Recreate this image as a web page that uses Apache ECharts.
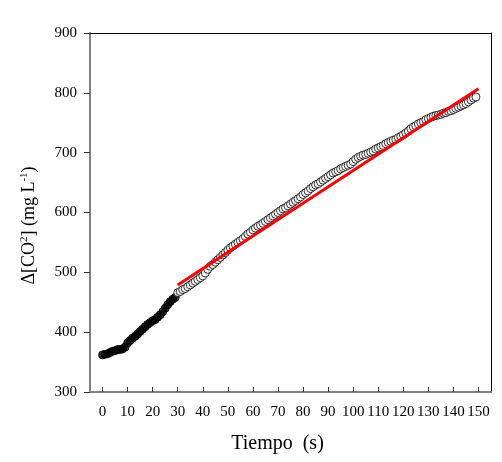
<!DOCTYPE html>
<html>
<head>
<meta charset="utf-8">
<script src="https://cdn.jsdelivr.net/npm/echarts@6/dist/echarts.min.js"></script>
<style>
  body { margin: 0; background: #fff; }
  #main { width: 502px; height: 462px; }
</style>
</head>
<body>
<div id="main"></div>
<script>
// tiempo (s) y delta CO2 (mg/L)
var tiempoLleno = [0, 1, 2, 3, 4, 5, 6, 7, 8, 9, 10, 11, 12, 13, 14, 15, 16, 17, 18, 19,
    20, 21, 22, 23, 24, 25, 26, 27, 28, 29];
var co2Lleno = [362, 363, 364, 366, 368, 369, 371, 371, 372, 375, 382, 386, 390, 393, 397, 401, 405, 409, 413, 416,
    419, 421, 425, 429, 434, 440, 446, 451, 455, 458];

var tiempoAbierto = [30, 31, 32, 33, 34, 35, 36, 37, 38, 39, 40, 41, 42, 43, 44, 45, 46, 47, 48, 49,
    50, 51, 52, 53, 54, 55, 56, 57, 58, 59, 60, 61, 62, 63, 64, 65, 66, 67, 68, 69,
    70, 71, 72, 73, 74, 75, 76, 77, 78, 79, 80, 81, 82, 83, 84, 85, 86, 87, 88, 89,
    90, 91, 92, 93, 94, 95, 96, 97, 98, 99, 100, 101, 102, 103, 104, 105, 106, 107, 108, 109,
    110, 111, 112, 113, 114, 115, 116, 117, 118, 119, 120, 121, 122, 123, 124, 125, 126, 127, 128, 129,
    130, 131, 132, 133, 134, 135, 136, 137, 138, 139, 140, 141, 142, 143, 144, 145, 146, 147, 148, 149];
var co2Abierto = [466, 468, 471, 473, 476, 479, 482, 485, 488, 491, 494, 499, 505, 510, 513, 517, 521, 525, 529, 533,
    537, 541, 544, 547, 550, 553, 556, 560, 564, 567, 571, 574, 577, 579, 582, 585, 588, 591, 594, 597,
    600, 603, 606, 608, 611, 614, 617, 620, 623, 626, 630, 633, 636, 640, 643, 646, 648, 651, 654, 657,
    660, 663, 666, 668, 670, 673, 675, 677, 679, 681, 685, 689, 692, 694, 696, 697, 699, 701, 703, 706,
    708, 710, 712, 715, 717, 719, 721, 722, 725, 727, 730, 733, 736, 740, 743, 745, 748, 750, 752, 755,
    757, 759, 761, 762, 763, 764, 766, 767, 769, 770, 772, 774, 776, 778, 780, 782, 785, 788, 791, 793];

// recta de ajuste (extremos)
var ajusteX = [30, 150];
var ajusteY = [479, 807];

var ticksX = [0, 10, 20, 30, 40, 50, 60, 70, 80, 90, 100, 110, 120, 130, 140, 150];

function pares(xs, ys) {
    var out = [];
    for (var i = 0; i < xs.length; i++) out.push([xs[i], ys[i]]);
    return out;
}

var fuente = 'Liberation Serif';
var myChart = echarts.init(document.getElementById('main'));

option = {
    backgroundColor: '#fff',
    animation: false,
    grid: { left: 90, top: 33, right: 11, bottom: 70 },
    xAxis: [
        {
            type: 'value',
            min: -5,
            max: 155,
            name: 'Tiempo  (s)',
            nameLocation: 'middle',
            nameGap: 42,
            nameTextStyle: { fontFamily: fuente, fontSize: 20, color: '#000', padding: [0, 26, 0, 0] },
            axisLine: { onZero: false, lineStyle: { color: '#808080', width: 2 } },
            axisTick: { show: true, inside: true, length: 5, customValues: ticksX, lineStyle: { color: '#333' } },
            axisLabel: { customValues: ticksX, margin: 13, fontFamily: fuente, fontSize: 15, color: '#000' },
            splitLine: { show: false }
        },
        {
            // borde superior
            type: 'value', position: 'top', min: -5, max: 155,
            axisLine: { onZero: false, lineStyle: { color: '#000', width: 1 } },
            axisTick: { show: false }, axisLabel: { show: false }, splitLine: { show: false }
        }
    ],
    yAxis: [
        {
            type: 'value',
            min: 300,
            max: 900,
            interval: 100,
            name: '{n|Δ[CO}{s|2}{n|] (mg L}{s|-1}{n|)}',
            nameLocation: 'middle',
            nameRotate: 90,
            nameGap: 52,
            nameTextStyle: {
                padding: [0, 26, 0, 0],
                rich: {
                    n: { fontFamily: fuente, fontSize: 18, color: '#000', lineHeight: 20, verticalAlign: 'bottom' },
                    s: { fontFamily: fuente, fontSize: 11, color: '#000', padding: [0, 0, 8, 0], verticalAlign: 'bottom' }
                }
            },
            axisLine: { show: true, onZero: false, lineStyle: { color: '#808080', width: 2 } },
            axisTick: { show: true, length: 6, lineStyle: { color: '#333' } },
            axisLabel: { margin: 13, fontFamily: fuente, fontSize: 15, color: '#000' },
            splitLine: { show: false }
        },
        {
            // borde derecho
            type: 'value', position: 'right', min: 300, max: 900,
            axisLine: { show: true, onZero: false, lineStyle: { color: '#000', width: 1 } },
            axisTick: { show: false }, axisLabel: { show: false }, splitLine: { show: false }
        }
    ],
    series: [
        {
            name: 'lleno',
            type: 'scatter',
            symbol: 'circle',
            symbolSize: 8,
            data: pares(tiempoLleno, co2Lleno),
            itemStyle: { color: '#000', borderColor: '#000', borderWidth: 1 }
        },
        {
            name: 'abierto',
            type: 'scatter',
            symbol: 'circle',
            symbolSize: 8,
            data: pares(tiempoAbierto, co2Abierto),
            itemStyle: { color: '#fff', borderColor: '#000', borderWidth: 1 }
        },
        {
            name: 'ajuste',
            type: 'line',
            symbol: 'none',
            z: 5,
            data: pares(ajusteX, ajusteY),
            lineStyle: { color: '#ff0000', width: 3 }
        }
    ]
};

myChart.setOption(option);
</script>
</body>
</html>
